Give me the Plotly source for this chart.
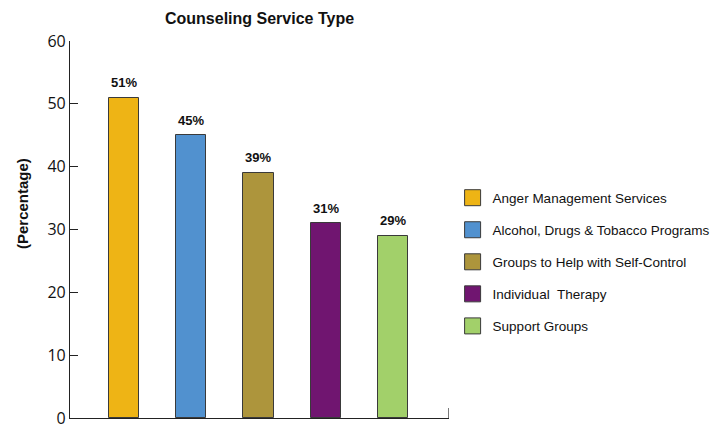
import plotly.graph_objects as go

# Survey results: share of respondents using each counseling service
categories = [
    "Anger Management Services",
    "Alcohol, Drugs & Tobacco Programs",
    "Groups to Help with Self-Control",
    "Individual  Therapy",
    "Support Groups",
]
values = [51, 45, 39, 31, 29]
colors = ["#EEB415", "#5191CF", "#AD953C", "#701570", "#A2D06A"]
y_ticks = [0, 10, 20, 30, 40, 50, 60]

FONT = "Liberation Sans, Arial, sans-serif"
TICK_FONT = "Open Sans, Noto Sans, sans-serif"

fig = go.Figure()

for i, (name, val, col) in enumerate(zip(categories, values, colors)):
    fig.add_trace(go.Bar(
        x=[i], y=[val], width=0.446,
        marker=dict(color=col, line=dict(color="#3a3a3a", width=1)),
        showlegend=False,
        hoverinfo="skip",
    ))
    # value label floating above the bar
    fig.add_annotation(x=i, y=val, xref="x", yref="y",
                       text=f"<b>{val}%</b>", showarrow=False,
                       yanchor="middle", yshift=15,
                       font=dict(family=FONT, size=13, color="#111111"))
    # larger square swatch for the legend entry
    fig.add_trace(go.Scatter(
        x=[None], y=[None], mode="markers", name=name,
        legendgroup=name,
        marker=dict(symbol="square", size=16, color=col,
                    line=dict(color="#3a3a3a", width=1)),
    ))

# small upward tick closing the right end of the category axis
fig.add_shape(type="line", xref="x", yref="y",
              x0=4.83, x1=4.83, y0=0, y1=1.6,
              line=dict(color="#222222", width=1.2))

# vertical axis title
fig.add_annotation(xref="paper", yref="paper", x=-48 / 379, y=(418 - 204) / 377,
                   xanchor="center", yanchor="middle", textangle=-90,
                   text="<b>(Percentage)</b>", showarrow=False,
                   font=dict(family=FONT, size=15, color="#111111"))

fig.update_layout(
    width=722, height=425,
    margin=dict(l=70, r=273, t=41, b=7, autoexpand=False),
    paper_bgcolor="white", plot_bgcolor="white",
    font=dict(family=FONT, color="#111111"),
    title=dict(text="<b>Counseling Service Type</b>",
               font=dict(family=FONT, size=16, color="#111111"),
               x=(259.5 / 722), xanchor="center", y=1 - 18 / 425, yanchor="middle"),
    bargap=0,
    legend=dict(x=1.0095, xanchor="left", y=0.414, yanchor="middle",
                font=dict(family=FONT, size=13.5, color="#111111"),
                tracegroupgap=11.5, bgcolor="rgba(0,0,0,0)"),
    showlegend=True,
)

fig.update_xaxes(range=[-0.80, 4.83], showticklabels=False, ticks="",
                 showgrid=False, zeroline=False, showline=True,
                 linecolor="#222222", linewidth=1.2, automargin=False)
fig.update_yaxes(range=[0, 60], tickvals=y_ticks, ticks="inside", ticklen=8,
                 tickcolor="#222222", tickwidth=1.2, ticklabeloverflow="allow",
                 showgrid=False, zeroline=False, showline=True,
                 linecolor="#222222", linewidth=1.2, automargin=False,
                 tickfont=dict(family=TICK_FONT, size=16, color="#111111"))

fig.write_html("out.html")
